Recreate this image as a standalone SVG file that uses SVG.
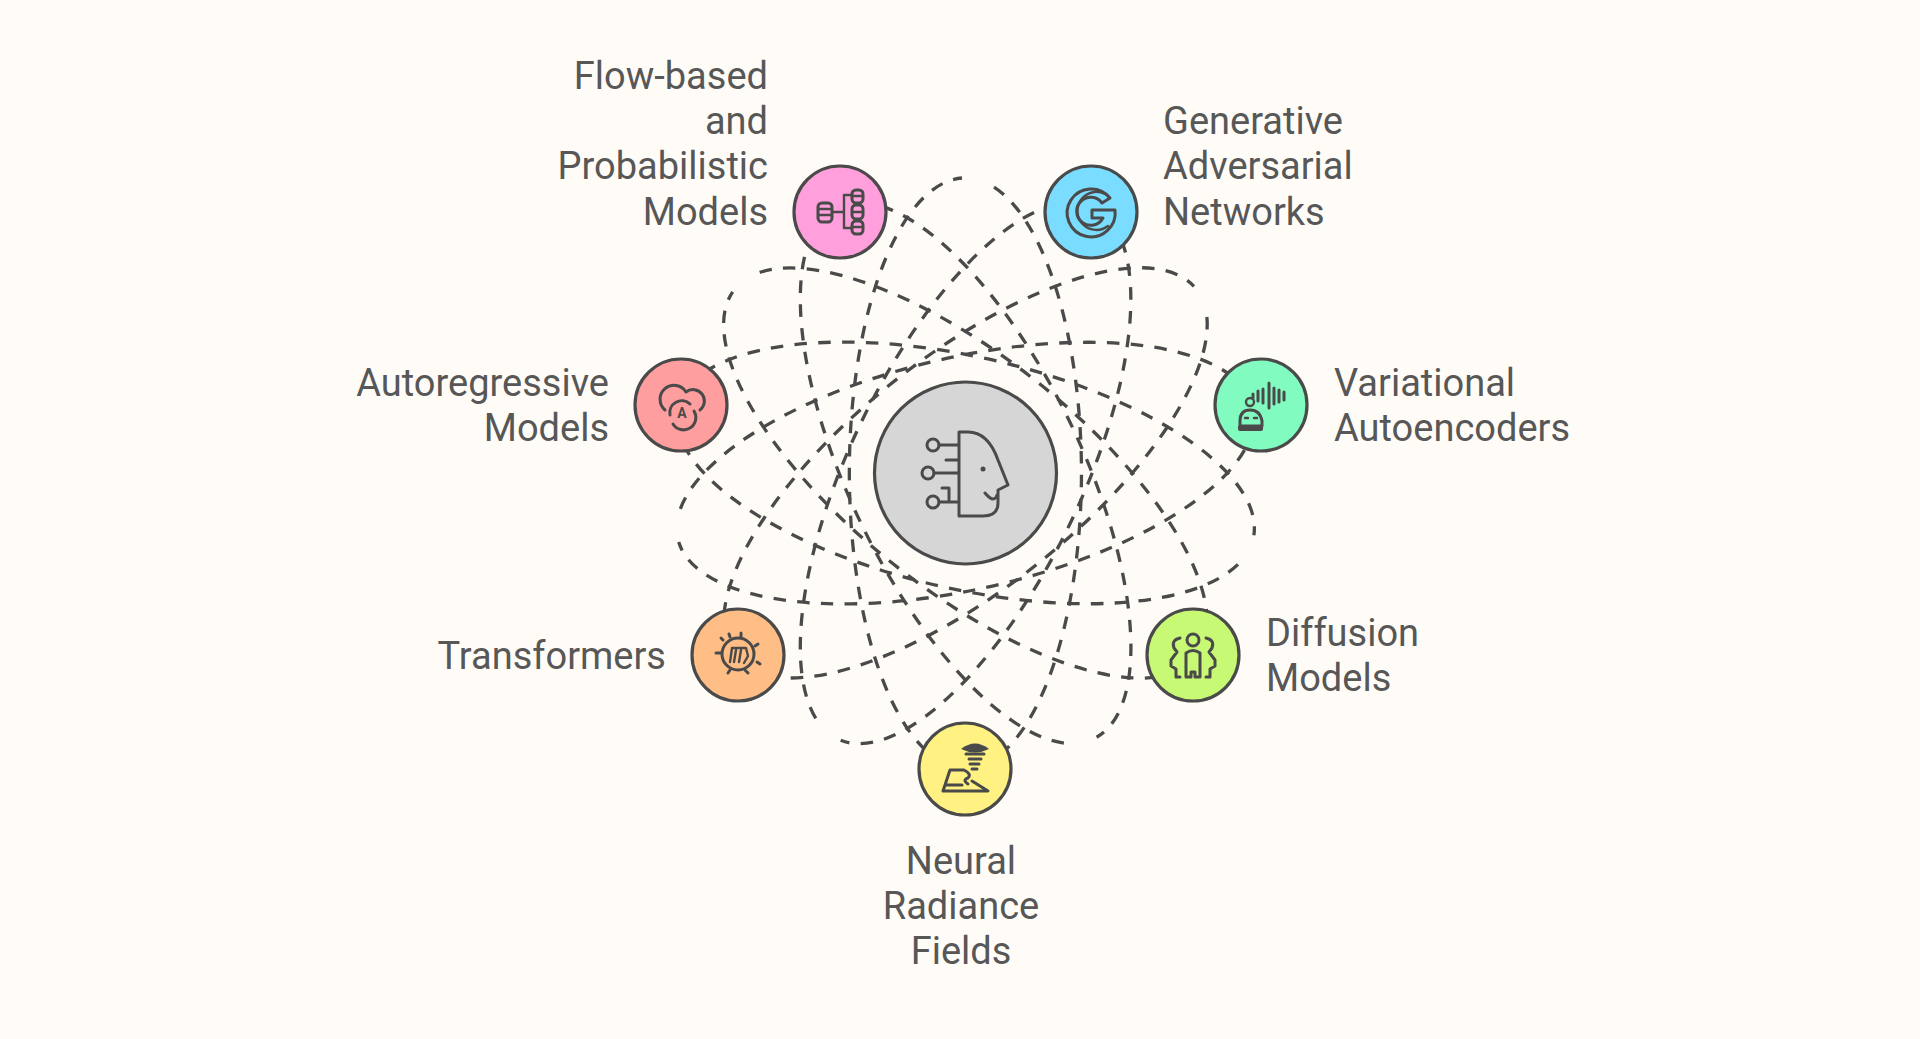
<svg xmlns="http://www.w3.org/2000/svg" width="1920" height="1039" viewBox="0 0 1920 1039">
<style>
.bg{fill:#fffcf8}
.n{stroke:#4a4a4a;stroke-width:3.2}
.i{fill:none;stroke:#4a4a4a;stroke-width:3;stroke-linecap:round;stroke-linejoin:round}
.t{stroke-width:2.4}
.f{fill:#4a4a4a;stroke:none}
.l{font-family:Roboto,"Liberation Sans",sans-serif;font-size:38px;fill:#575757}
.r{text-anchor:end}
.m{text-anchor:middle}
.c{fill:none;stroke:#4a4a4a;stroke-width:3.300;stroke-dasharray:12.500 11.320}
</style>
<defs>
<path id="loop" d="M994 187.040A116 295 0 0 1 937 758.960A116 295 0 0 1 962 178.020"/>
</defs>
<rect class="bg" width="1920" height="1039"/>
<g id="connectors" class="c">
<use href="#loop"/>
<use href="#loop" transform="rotate(51.43 965.5 473)"/>
<use href="#loop" transform="rotate(102.86 965.5 473)"/>
<use href="#loop" transform="rotate(154.29 965.5 473)"/>
<use href="#loop" transform="rotate(205.71 965.5 473)"/>
<use href="#loop" transform="rotate(257.14 965.5 473)"/>
<use href="#loop" transform="rotate(308.57 965.5 473)"/>
</g>
<g id="center">
<circle class="n" cx="965.5" cy="473" r="91" fill="#d6d6d6"/>
<path class="i" d="M959 432V516H983Q998 516 998 503V490L1008 485L998 460Q988 432 968 432H959M959 445H939M959 460H946M959 473H934M959 502H939M949 502V488H942M985 493Q990 499 993 499T997 495"/>
<circle class="i" cx="933" cy="445" r="6"/><circle class="i" cx="928" cy="473" r="6"/><circle class="i" cx="933" cy="502" r="6"/>
<circle class="f" cx="983" cy="469" r="2.5"/>
</g>
<g id="node-flow">
<circle class="n" cx="840" cy="212" r="46" fill="#ff9fdc"/>
<rect class="i" x="818" y="203" width="14" height="19" rx="4"/>
<path class="i t" d="M819 209H831M819 215H831M833 212H844M852 195H844V228H852"/>
<rect class="i" x="852" y="190" width="11" height="13" rx="4"/><rect class="i" x="852" y="205" width="11" height="14" rx="4"/><rect class="i" x="852" y="221" width="11" height="13" rx="4"/>
<path class="i t" d="M853 196H862M853 212H862M853 227H862"/>
<text class="l r" x="768" y="88.600">Flow-based</text>
<text class="l r" x="768" y="133.900">and</text>
<text class="l r" x="768" y="179.200">Probabilistic</text>
<text class="l r" x="768" y="224.500">Models</text>
</g>
<g id="node-gan">
<circle class="n" cx="1091" cy="212" r="46" fill="#7adcff"/>
<path class="i" d="M1110 198A24 24 0 1 0 1115 210H1092V218H1103A14 14 0 1 1 1102 203Z"/>
<path class="i t" d="M1105 194A19 19 0 1 0 1108 226"/>
<text class="l" x="1163" y="133.900">Generative</text>
<text class="l" x="1163" y="179.200">Adversarial</text>
<text class="l" x="1163" y="224.500">Networks</text>
</g>
<g id="node-vae">
<circle class="n" cx="1261" cy="405" r="46" fill="#82fbc0"/>
<path class="i" d="M1240 426V421Q1240 410 1250 410T1262 421V426Z"/>
<rect class="f" x="1238" y="425" width="25" height="6" rx="2"/>
<circle class="i t" cx="1250" cy="402" r="4"/>
<path class="i" d="M1253 394V398M1258 391V401M1263 389V403M1269 383V408M1274 388V404M1279 390V402M1284 392V400"/>
<path class="i t" d="M1245 418H1248M1254 418H1257"/>
<text class="l" x="1334" y="396">Variational</text>
<text class="l" x="1334" y="441.300">Autoencoders</text>
</g>
<g id="node-diffusion">
<circle class="n" cx="1193" cy="655" r="46" fill="#c8f975"/>
<circle class="i" cx="1193" cy="640" r="6"/>
<path class="i" d="M1186 653Q1193 648 1200 653L1200 666V677H1195V672H1191V677H1186V666Z"/>
<path class="i" d="M1180 638Q1171 640 1174 648L1177 652L1171 660V666L1176 669V677H1180M1206 638Q1215 640 1212 648L1209 652L1215 660V666L1210 669V677H1206"/>
<text class="l" x="1266" y="645.800">Diffusion</text>
<text class="l" x="1266" y="691.100">Models</text>
</g>
<g id="node-nerf">
<circle class="n" cx="965" cy="769" r="46" fill="#fff282"/>
<path class="i" d="M950 770H964M972 781L988 791H943L950 770M947 785H962M964 770Q972 774 968 778Q962 780 968 784" stroke-width="3.400"/>
<path class="f" d="M961 749Q975 738 989 749Q975 756 961 749Z"/>
<path class="i" d="M966 754H984M969 759H981M970 764H979M972 769H977"/>
<text class="l m" x="961" y="873.500">Neural</text>
<text class="l m" x="961" y="918.800">Radiance</text>
<text class="l m" x="961" y="964.100">Fields</text>
</g>
<g id="node-transformers">
<circle class="n" cx="738" cy="655" r="46" fill="#ffbe85"/>
<circle class="i" cx="738" cy="654" r="16" stroke-width="4.500"/>
<path class="i" d="M741 637V633M755 646L758 644M757 662L760 664M730 670L728 673M721 653H716M723 640L721 638M745 670L748 673M730 637L729 634" stroke-width="4.500"/>
<path class="i t" d="M730 662L732 648H746L748 656L744 663M736 650L734 662M741 650L739 662"/>
<text class="l r" x="666" y="669">Transformers</text>
</g>
<g id="node-autoregressive">
<circle class="n" cx="681" cy="405" r="46" fill="#ff9e9e"/>
<path class="i" d="M665 410A14 14 0 1 1 686 392A9.500 9.500 0 0 1 700 410"/>
<path class="i" d="M670 415A12 12 0 0 1 690 404M694 411A12 12 0 0 1 673 424"/>
<text x="682" y="418" font-family="Roboto,sans-serif" font-size="14" font-weight="700" fill="#4a4a4a" text-anchor="middle">A</text>
<text class="l r" x="609" y="396">Autoregressive</text>
<text class="l r" x="609" y="441.300">Models</text>
</g>
</svg>
